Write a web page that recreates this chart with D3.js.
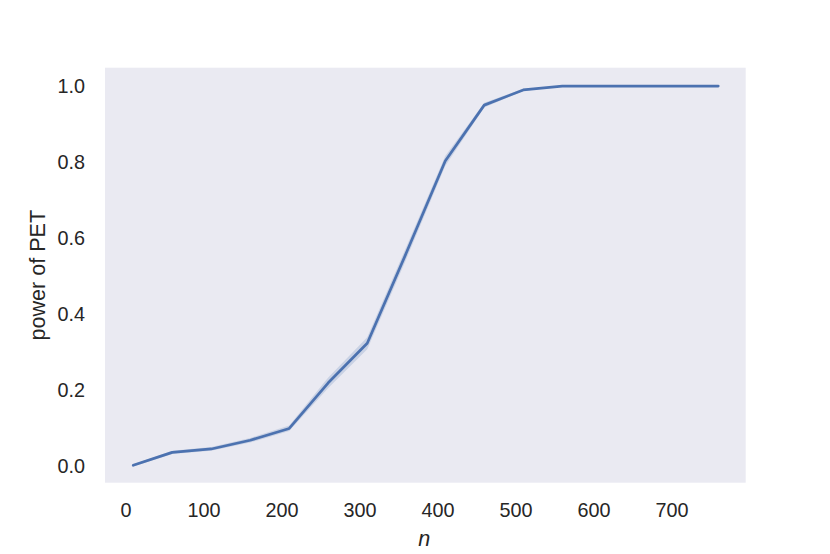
<!DOCTYPE html>
<html>
<head>
<meta charset="utf-8">
<script src="https://cdn.jsdelivr.net/npm/d3@7"></script>
<style>
  body { margin: 0; background: #fff; }
  svg { display: block; }
  text { font-family: "Liberation Sans", Arial, sans-serif; fill: #262626; }
</style>
</head>
<body>
<svg id="chart" width="830" height="554"></svg>
<script>
const nValues = [10, 60, 110, 160, 210, 260, 310, 360, 410, 460, 510, 560, 610, 660, 710, 760];
const power   = [0.003, 0.037, 0.046, 0.069, 0.100, 0.220, 0.324, 0.561, 0.803, 0.950, 0.990, 1.0, 1.0, 1.0, 1.0, 1.0];
const ciLow   = [0.000, 0.033, 0.041, 0.063, 0.093, 0.206, 0.308, 0.545, 0.790, 0.944, 0.987, 1.0, 1.0, 1.0, 1.0, 1.0];
const ciHigh  = [0.006, 0.041, 0.051, 0.075, 0.108, 0.234, 0.340, 0.577, 0.816, 0.956, 0.993, 1.0, 1.0, 1.0, 1.0, 1.0];
const xTicks  = [0, 100, 200, 300, 400, 500, 600, 700];
const yTicks  = [0.0, 0.2, 0.4, 0.6, 0.8, 1.0];
const xLabel  = "n";
const yLabel  = "power of PET";

const svg = d3.select("#chart");
const mLeft = 105, mRight = 745.7, mTop = 67.7, mBottom = 482.7;

const x = d3.scaleLinear().domain([-26.2, 795.2]).range([mLeft, mRight]);
const y = d3.scaleLinear().domain([-0.0427, 1.0484]).range([mBottom, mTop]);

svg.append("rect")
  .attr("x", mLeft).attr("y", mTop)
  .attr("width", mRight - mLeft).attr("height", mBottom - mTop)
  .attr("fill", "#EAEAF2");

const data = nValues.map((n, i) => ({ n, p: power[i], lo: ciLow[i], hi: ciHigh[i] }));

svg.append("path")
  .datum(data)
  .attr("fill", "#4C72B0")
  .attr("fill-opacity", 0.2)
  .attr("d", d3.area().x(d => x(d.n)).y0(d => y(d.lo)).y1(d => y(d.hi)));

svg.append("path")
  .datum(data)
  .attr("fill", "none")
  .attr("stroke", "#4C72B0")
  .attr("stroke-width", 2.7)
  .attr("stroke-linecap", "round")
  .attr("stroke-linejoin", "round")
  .attr("d", d3.line().x(d => x(d.n)).y(d => y(d.p)));

const xAxis = svg.append("g")
  .attr("transform", `translate(0,${mBottom})`)
  .call(d3.axisBottom(x).tickValues(xTicks).tickSize(0).tickPadding(20).tickFormat(d3.format("d")));
xAxis.select(".domain").remove();
xAxis.selectAll("text").style("font-size", "19.8px").attr("fill", "#262626")
  .style("font-family", '"Liberation Sans", Arial, sans-serif');

const yAxis = svg.append("g")
  .attr("transform", `translate(${mLeft},0)`)
  .call(d3.axisLeft(y).tickValues(yTicks).tickSize(0).tickPadding(20).tickFormat(d3.format(".1f")));
yAxis.select(".domain").remove();
yAxis.selectAll("text").style("font-size", "19.8px").attr("fill", "#262626")
  .style("font-family", '"Liberation Sans", Arial, sans-serif');

svg.append("text")
  .attr("x", (mLeft + mRight) / 2 - 1)
  .attr("y", 546)
  .attr("text-anchor", "middle")
  .style("font-size", "21.6px")
  .style("font-style", "italic")
  .text(xLabel);

svg.append("text")
  .attr("transform", `translate(45,${(mTop + mBottom) / 2}) rotate(-90)`)
  .attr("text-anchor", "middle")
  .style("font-size", "21.6px")
  .text(yLabel);
</script>
</body>
</html>
